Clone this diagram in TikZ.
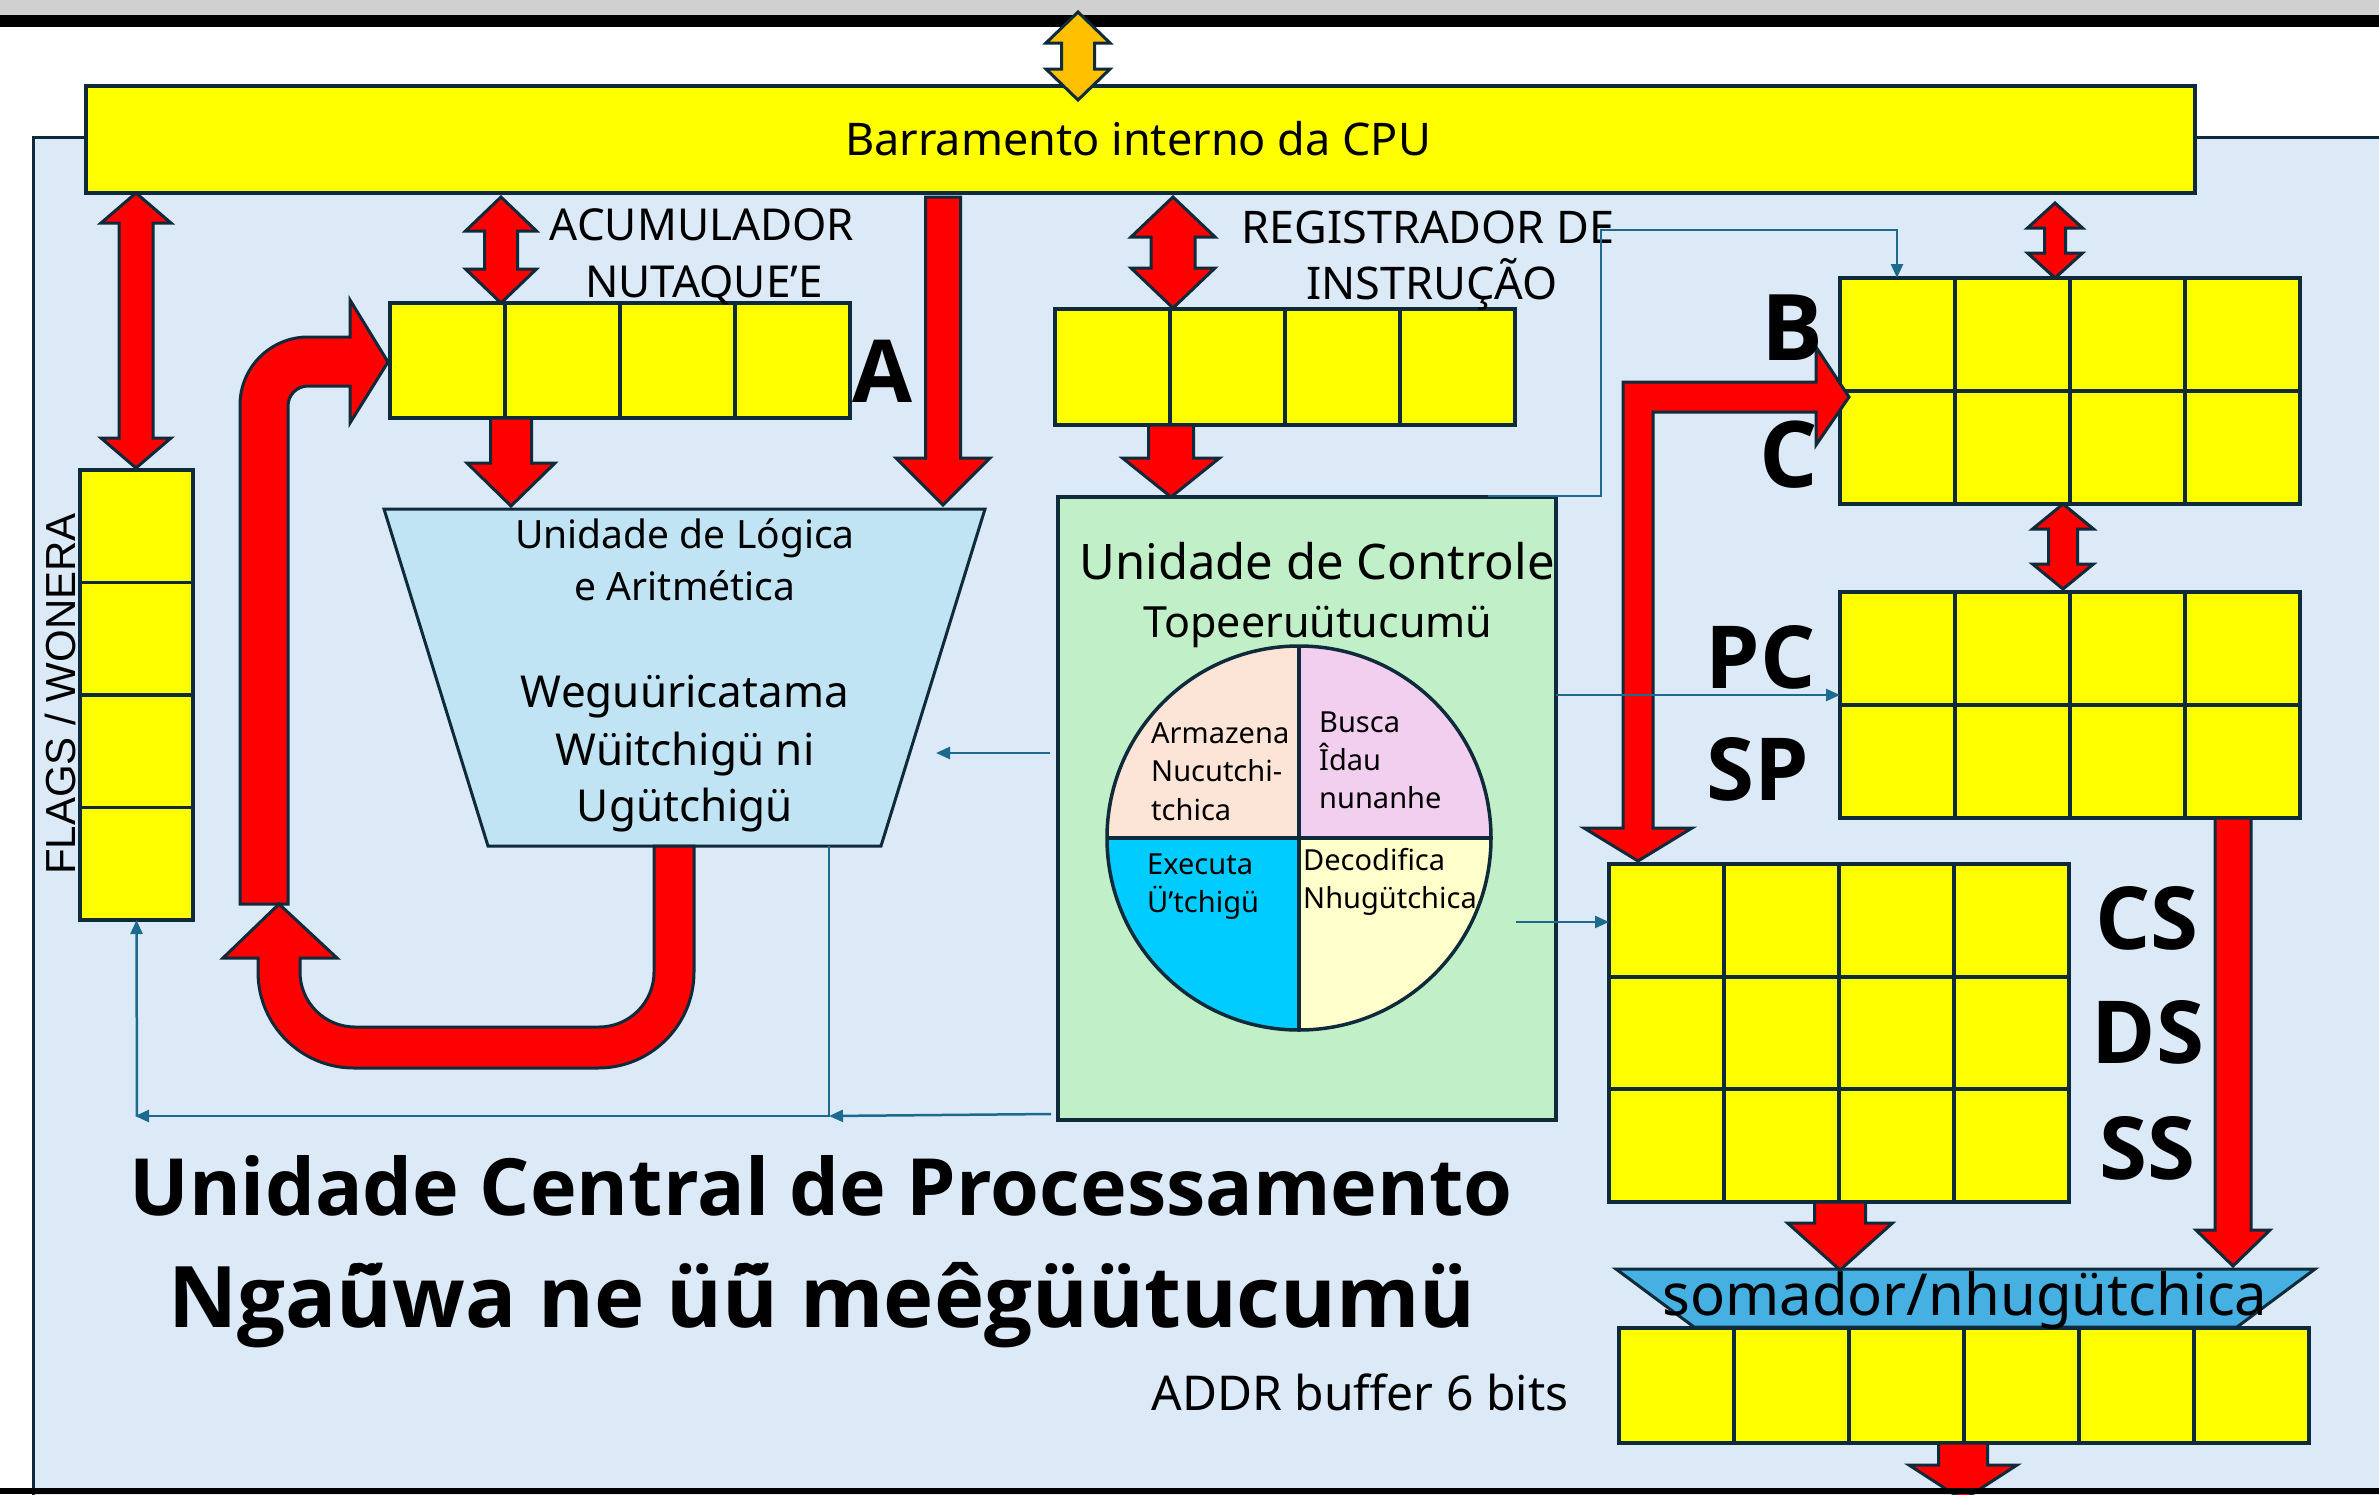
\documentclass[tikz,border=0pt]{standalone}
\usepackage{fontspec}
\setmainfont{Noto Sans}
\usetikzlibrary{arrows.meta}
\newfontfamily\arialf{Liberation Sans}
\IfFontExistsTF{Noto Sans Bold}{\newfontfamily\boldf{Noto Sans Bold}}{%
 \IfFontExistsTF{Open Sans Bold}{\newfontfamily\boldf{Open Sans Bold}}{%
  \IfFontExistsTF{Fira Sans Bold}{\newfontfamily\boldf{Fira Sans Bold}}{%
   \newfontfamily\boldf{Liberation Sans}[UprightFont={* Bold}]}}}
\definecolor{dark}{HTML}{0E2A3B}
\definecolor{conncol}{HTML}{1E6A8E}
\definecolor{panel}{HTML}{DCEAF7}
\definecolor{ylw}{HTML}{FFFF00}
\definecolor{rd}{HTML}{FF0000}
\definecolor{orng}{HTML}{FFC000}
\definecolor{alucol}{HTML}{C1E4F5}
\definecolor{cug}{HTML}{C1F0C8}
\definecolor{addcol}{HTML}{45B0E1}
\definecolor{peach}{HTML}{FCE4D6}
\definecolor{pinkq}{HTML}{F2CEEF}
\definecolor{cyanq}{HTML}{00CCFF}
\definecolor{lyel}{HTML}{FFFFCC}
\definecolor{grayb}{HTML}{D0D0D0}
\newcommand{\fsz}[1]{\fontsize{#1}{#1}\selectfont}
% double vertical block arrow: [fill] x, ytop, ybot, shaft, head, headlen
\newcommand{\udArrow}[7][rd]{%
 \filldraw[barrow,fill=#1] (#2,#3) -- (#2+#6/2,#3+#7) -- (#2+#5/2,#3+#7) -- (#2+#5/2,#4-#7) -- (#2+#6/2,#4-#7) -- (#2,#4) -- (#2-#6/2,#4-#7) -- (#2-#5/2,#4-#7) -- (#2-#5/2,#3+#7) -- (#2-#6/2,#3+#7) -- cycle;}
% single downward block arrow: x, ytail, ytip, shaft, head, headlen
\newcommand{\dnArrow}[6]{%
 \filldraw[barrow] (#1-#4/2,#2) -- (#1+#4/2,#2) -- (#1+#4/2,#3-#6) -- (#1+#5/2,#3-#6) -- (#1,#3) -- (#1-#5/2,#3-#6) -- (#1-#4/2,#3-#6) -- cycle;}
\begin{document}
\begin{tikzpicture}[x=1pt,y=-1pt,
  reg/.style={draw=dark,fill=ylw,line width=3.5,inner sep=0pt,outer sep=0pt,anchor=north west},
  cell/.style={draw=dark,line width=3.5},
  barrow/.style={fill=rd,draw=dark,line width=3},
  conn/.style={draw=conncol,line width=2.5,-{Triangle[length=14pt,width=12pt]}},
  lbl/.style={inner sep=0pt,anchor=base},
  bigl/.style={inner sep=0pt,anchor=base,font=\boldf\fsz{87}},
  pietxt/.style={inner sep=0pt,anchor=base west,font=\fsz{29}},
]
\useasboundingbox (0,0) rectangle (2379,1494);
\fill[white] (0,0) rectangle (2379,1494);
\fill[grayb] (0,0) rectangle (2379,15);
\fill[black] (0,15) rectangle (2379,27);
\filldraw[fill=panel,draw=dark,line width=3] (33,137) rectangle (2400,1510);

% bus
\node[reg,line width=4,minimum width=2109,minimum height=107] (bus) at (86,86) {};
\node[lbl,font=\fsz{45}] (bustxt) at (1138,155) {Barramento interno da CPU};
\udArrow[orng]{1078}{12}{100}{33}{64}{31}

% registers
\node[reg,minimum width=113,minimum height=450] (flags) at (80,470) {};
\foreach \y in {582.5,695,807.5} \draw[cell] (80,\y) -- (193,\y);
\node[reg,minimum width=460,minimum height=115] (regA) at (390,303) {};
\foreach \x in {505,620,735} \draw[cell] (\x,303) -- (\x,418);
\node[reg,minimum width=460,minimum height=116] (regIR) at (1055,309) {};
\foreach \x in {1170,1285,1400} \draw[cell] (\x,309) -- (\x,425);
\node[reg,minimum width=460,minimum height=226] (regBC) at (1840,278) {};
\foreach \x in {1955,2070,2185} \draw[cell] (\x,278) -- (\x,504);
\draw[cell] (1840,391) -- (2300,391);
\node[reg,minimum width=460,minimum height=226] (regPC) at (1840,592) {};
\foreach \x in {1955,2070,2185} \draw[cell] (\x,592) -- (\x,818);
\draw[cell] (1840,705) -- (2300,705);
\node[reg,minimum width=460,minimum height=338] (regCS) at (1609,864) {};
\foreach \x in {1724,1839,1954} \draw[cell] (\x,864) -- (\x,1202);
\foreach \y in {977,1089} \draw[cell] (1609,\y) -- (2069,\y);

% adder and address buffer
\filldraw[fill=addcol,draw=dark,line width=3] (1616,1269) -- (2315,1269) -- (2237,1327) -- (1694,1327) -- cycle;
\node[reg,minimum width=690,minimum height=115] (regAD) at (1619,1328) {};
\foreach \x in {1734,1849,1964,2079,2194} \draw[cell] (\x,1328) -- (\x,1443);
\node[lbl,font=\fsz{58}] (addtxt) at (1965,1315) {somador/nhugütchica};

% ALU
\filldraw[fill=alucol,draw=dark,line width=3] (384,509) -- (985,509) -- (881,846) -- (488,846) -- cycle;
\node[lbl,font=\fsz{39}] (alu1) at (685,548) {Unidade de Lógica};
\node[lbl,font=\fsz{39}] (alu2) at (685,600) {e Aritmética};
\node[lbl,font=\fsz{44}] (alu3) at (685,707) {Weguüricatama};
\node[lbl,font=\fsz{44}] (alu4) at (685,765) {Wüitchigü ni};
\node[lbl,font=\fsz{44}] (alu5) at (685,821) {Ugütchigü};

% control unit
\node[draw=dark,fill=cug,line width=3.5,minimum width=498,minimum height=623,anchor=north west,inner sep=0pt,outer sep=0pt] (CU) at (1058,497) {};
\node[lbl,font=\fsz{49}] (cu1) at (1317,579) {Unidade de Controle};
\node[lbl,font=\fsz{43}] (cu2) at (1318,637) {Topeeruütucumü};
\begin{scope}
\clip (1299,838) circle[radius=192];
\fill[peach] (1100,640) rectangle (1299,838);
\fill[pinkq] (1299,640) rectangle (1500,838);
\fill[cyanq] (1100,838) rectangle (1299,1040);
\fill[lyel] (1299,838) rectangle (1500,1040);
\end{scope}
\draw[dark,line width=3.5] (1299,838) circle[radius=192];
\draw[dark,line width=3.5] (1299,646) -- (1299,1030) (1107,838) -- (1491,838);
\node[pietxt] (p1) at (1151,743) {Armazena};
\node[pietxt] (p2) at (1151,781) {Nucutchi-};
\node[pietxt] (p3) at (1151,820) {tchica};
\node[pietxt] (p4) at (1319,732) {Busca};
\node[pietxt] (p5) at (1319,770) {Îdau};
\node[pietxt] (p6) at (1319,808) {nunanhe};
\node[pietxt] (p7) at (1147,874) {Executa};
\node[pietxt] (p8) at (1147,912) {Ü’tchigü};
\node[pietxt] (p9) at (1303,870) {Decodifica};
\node[pietxt] (p10) at (1303,908) {Nhugütchica};

% straight block arrows
\udArrow{136}{193}{468}{34}{70}{30}
\udArrow{501}{197}{303}{33}{71}{34}
\dnArrow{943}{197}{505}{35}{94}{47}
\dnArrow{511}{418}{506}{41}{88}{43}
\udArrow{1173}{197}{308}{44}{84}{40}
\dnArrow{1171}{425}{497}{45}{97}{39}
\udArrow{2055}{203}{278}{21}{55}{25}
\udArrow{2063}{504}{589}{29}{61}{25}
\dnArrow{2233}{818}{1266}{36}{74}{36}
\dnArrow{1840}{1202}{1270}{51}{105}{47}
\dnArrow{1963}{1443}{1500}{49}{108}{35}

% bent arrow into A
\filldraw[barrow] (240,904) -- (240,405) arc[start angle=180,end angle=270,radius=68] -- (350,337) -- (350,300) -- (388,362) -- (350,423) -- (350,386) -- (308,386) arc[start angle=270,end angle=180,radius=20] -- (288,904) -- cycle;
% U arrow from ALU
\filldraw[barrow] (654,846) -- (654,972) arc[start angle=0,end angle=90,radius=55] -- (355,1027) arc[start angle=90,end angle=180,radius=55] -- (300,958) -- (337,958) -- (279,904) -- (223,958) -- (258,958) -- (258,972) arc[start angle=180,end angle=90,radius=96] -- (598,1068) arc[start angle=90,end angle=0,radius=96] -- (694,846) -- cycle;
% bent double arrow B/C <-> CS
\filldraw[barrow] (1623,382) -- (1816,382) -- (1816,347) -- (1849,397) -- (1816,445) -- (1816,412) -- (1653,412) -- (1653,828) -- (1692,828) -- (1638,861) -- (1584,828) -- (1623,828) -- cycle;

% labels
\node[lbl,font=\fsz{44}] (acc1) at (702,240) {ACUMULADOR};
\node[lbl,font=\fsz{44}] (acc2) at (704,297) {NUTAQUE’E};
\node[lbl,font=\fsz{45}] (ir1) at (1428,243) {REGISTRADOR DE};
\node[lbl,font=\fsz{45}] (ir2) at (1432,299) {INSTRUÇÃO};
\node[bigl] (lA) at (883,402) {A};
\node[bigl,font=\boldf\fsz{92}] (lB) at (1792,360) {B};
\node[bigl,font=\boldf\fsz{92}] (lC) at (1789,487) {C};
\node[bigl] (lPC) at (1761,688) {PC};
\node[bigl] (lSP) at (1758,800) {SP};
\node[bigl] (lCS) at (2147,949) {CS};
\node[bigl] (lDS) at (2148,1063) {DS};
\node[bigl] (lSS) at (2147,1179) {SS};
\node[lbl,font=\arialf\fsz{42},rotate=90] (lflags) at (75,694) {FLAGS / WONERA};
\node[lbl,font=\fsz{48}] (addr) at (1360,1410) {ADDR buffer 6 bits};
\node[lbl,font=\boldf\fsz{79}] (title1) at (821,1215) {Unidade Central de Processamento};
\node[lbl,font=\boldf\fsz{85}] (title2) at (822,1327) {Ngaü̃wa ne üü̃ meêgüütucumü};

% thin connectors
\coordinate (cuTop) at (1488,496);
\coordinate (bcTop) at (1897,278);
\draw[conn] (cuTop) -- (1601,496) -- (1601,230) -| (bcTop);
\coordinate (cuE) at (1556,695);
\draw[conn] (cuE) -- (cuE -| regPC.west);
\coordinate (pieOut) at (1516,922);
\draw[conn] (pieOut) -- (pieOut -| regCS.west);
\coordinate (cuW1) at (1050,753);
\coordinate (aluIn) at (936,753);
\draw[conn] (cuW1) -- (aluIn);
\coordinate (cuW2) at (1051,1114);
\coordinate (jn) at (829,1116);
\draw[conn] (cuW2) -- (jn);
\coordinate (aluOut) at (829,846);
\coordinate (fl) at (135,1116);
\draw[conn] (aluOut) -- (jn) -- (fl);
\draw[conn] (137,1116) -- (flags.south);

\fill[black] (0,1488) rectangle (2379,1494);
\end{tikzpicture}
\end{document}
